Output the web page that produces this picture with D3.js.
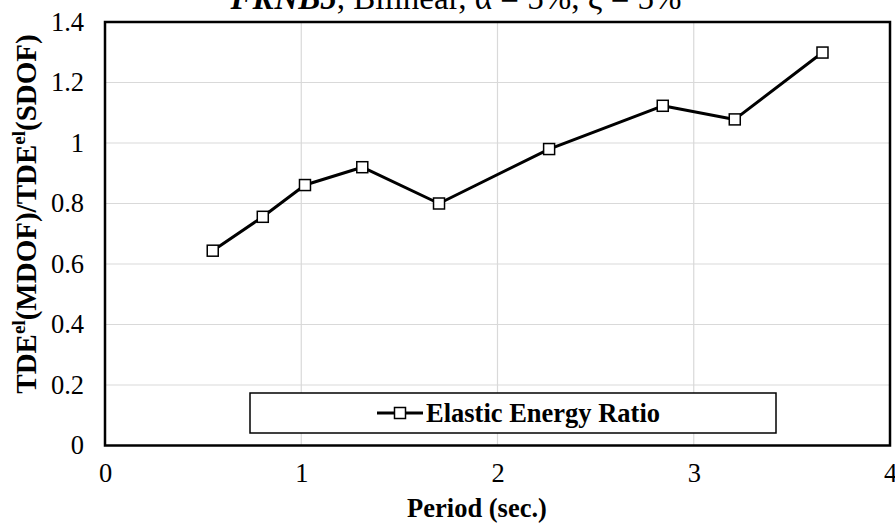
<!DOCTYPE html>
<html><head><meta charset="utf-8">
<script src="https://cdn.jsdelivr.net/npm/d3@7"></script>
<style>html,body{margin:0;padding:0;background:#fff;}svg{display:block;}</style>
</head><body>
<script>
const periods = [0.549, 0.804, 1.019, 1.311, 1.702, 2.263, 2.842, 3.209, 3.656];
const ratios  = [0.644, 0.756, 0.861, 0.920, 0.800, 0.980, 1.123, 1.078, 1.299];
const xTicks = [0, 1, 2, 3, 4];
const yTicks = [0, 0.2, 0.4, 0.6, 0.8, 1, 1.2, 1.4];
const seriesName = "Elastic Energy Ratio";

const W = 895, H = 528;
const font = "'Liberation Serif','Times New Roman',serif";
const svg = d3.select("body").append("svg").attr("width", W).attr("height", H);
svg.append("rect").attr("width", W).attr("height", H).attr("fill", "#fff");

const x = d3.scaleLinear().domain([0, 4]).range([105, 890]);
const y = d3.scaleLinear().domain([0, 1.4]).range([445.5, 22]);

// gridlines
svg.append("g").selectAll("line.h").data(yTicks).join("line")
  .attr("x1", x(0)).attr("x2", x(4)).attr("y1", d => y(d)).attr("y2", d => y(d))
  .attr("stroke", "#d9d9d9").attr("stroke-width", 1.2);
svg.append("g").selectAll("line.v").data(xTicks).join("line")
  .attr("y1", y(0)).attr("y2", y(1.4)).attr("x1", d => x(d)).attr("x2", d => x(d))
  .attr("stroke", "#d9d9d9").attr("stroke-width", 1.2);

// axes (labels only)
const yAxis = d3.axisLeft(y).tickValues(yTicks).tickSize(0).tickPadding(21).tickFormat(d3.format("~g"));
const gy = svg.append("g").attr("transform", `translate(${x(0)},0)`).call(yAxis);
gy.select(".domain").remove();
gy.selectAll("text").attr("font-family", font).attr("font-size", 26.5).attr("fill", "#000");

const xAxis = d3.axisBottom(x).tickValues(xTicks).tickSize(0).tickPadding(18).tickFormat(d3.format("d"));
const gx = svg.append("g").attr("transform", `translate(0,${y(0)})`).call(xAxis);
gx.select(".domain").remove();
gx.selectAll("text").attr("font-family", font).attr("font-size", 26.5).attr("fill", "#000");

// frame
svg.append("rect").attr("x", x(0)).attr("y", y(1.4)).attr("width", x(4) - x(0)).attr("height", y(0) - y(1.4))
  .attr("fill", "none").attr("stroke", "#000").attr("stroke-width", 2.5);

// series
const pts = periods.map((p, i) => [p, ratios[i]]);
svg.append("path").datum(pts)
  .attr("d", d3.line().x(d => x(d[0])).y(d => y(d[1])))
  .attr("fill", "none").attr("stroke", "#000").attr("stroke-width", 3).attr("stroke-linejoin", "round");
const ms = 11;
svg.append("g").selectAll("rect").data(pts).join("rect")
  .attr("x", d => x(d[0]) - ms / 2).attr("y", d => y(d[1]) - ms / 2)
  .attr("width", ms).attr("height", ms)
  .attr("fill", "#fff").attr("stroke", "#000").attr("stroke-width", 1.5);

// legend
const lg = svg.append("g");
lg.append("rect").attr("x", 250).attr("y", 393).attr("width", 526).attr("height", 40)
  .attr("fill", "#fff").attr("stroke", "#000").attr("stroke-width", 1.5);
lg.append("line").attr("x1", 377).attr("x2", 423).attr("y1", 413).attr("y2", 413)
  .attr("stroke", "#000").attr("stroke-width", 3);
lg.append("rect").attr("x", 400 - ms / 2).attr("y", 413 - ms / 2).attr("width", ms).attr("height", ms)
  .attr("fill", "#fff").attr("stroke", "#000").attr("stroke-width", 1.5);
lg.append("text").attr("x", 426).attr("y", 422).attr("font-family", font).attr("font-weight", "bold")
  .attr("font-size", 26.5).text(seriesName);

// titles
const t = svg.append("text").attr("x", 456).attr("y", 9).attr("text-anchor", "middle")
  .attr("font-family", font).attr("font-size", 33);
t.append("tspan").attr("font-weight", "bold").attr("font-style", "italic").text("FRNB5");
t.append("tspan").text(", Bilinear, α = 5%, ξ = 5%");

svg.append("text").attr("x", 477).attr("y", 517).attr("text-anchor", "middle")
  .attr("font-family", font).attr("font-weight", "bold").attr("font-size", 26.5).text("Period (sec.)");

const yt = svg.append("text").attr("transform", "translate(36,214) rotate(-90)").attr("text-anchor", "middle")
  .attr("font-family", font).attr("font-weight", "bold").attr("font-size", 29);
yt.append("tspan").text("TDE");
yt.append("tspan").attr("font-size", 19).attr("dy", -11).text("el");
yt.append("tspan").attr("dy", 11).text("(MDOF)/TDE");
yt.append("tspan").attr("font-size", 19).attr("dy", -11).text("el");
yt.append("tspan").attr("dy", 11).text("(SDOF)");
</script>
</body></html>
